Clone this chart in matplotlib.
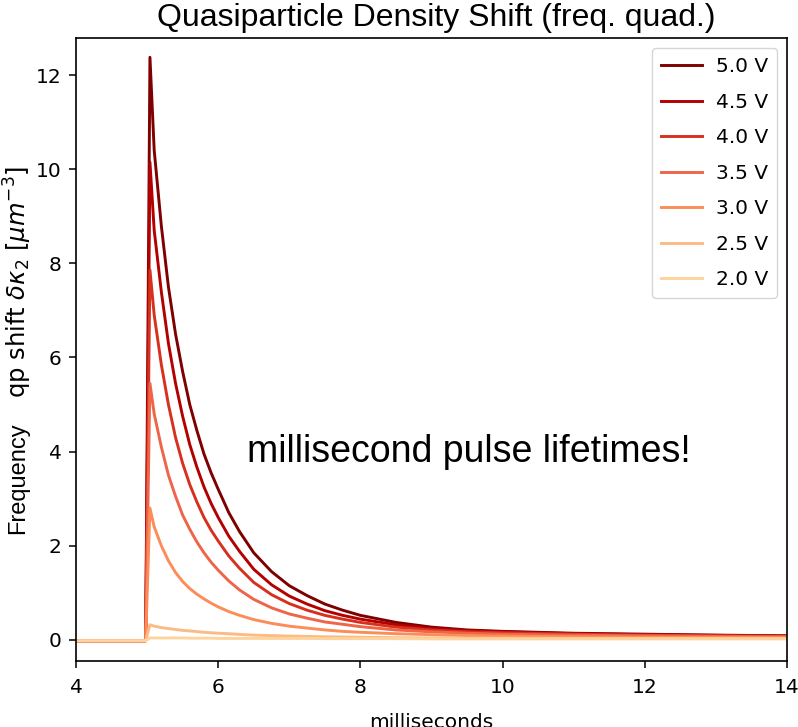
import matplotlib
matplotlib.use("Agg")
import matplotlib.pyplot as plt

# ---- data ----
t_ms = [3.9, 4.98, 5.04, 5.1, 5.2, 5.3, 5.4, 5.5, 5.6, 5.7, 5.8, 5.9, 6.0, 6.15, 6.3,
        6.5, 6.75, 7.0, 7.25, 7.5, 7.75, 8.0, 8.5, 9.0, 9.5, 10.0, 11.0, 12.0, 13.0, 14.0]

v_50 = [-0.02, -0.02, 12.38, 10.4, 8.8, 7.5, 6.5, 5.7, 5.0, 4.45, 3.95, 3.55, 3.2, 2.7, 2.3,
        1.85, 1.45, 1.15, 0.94, 0.76, 0.63, 0.52, 0.37, 0.27, 0.21, 0.18, 0.14, 0.12, 0.10, 0.085]
v_45 = [-0.02, -0.02, 10.15, 8.7, 7.4, 6.3, 5.45, 4.75, 4.15, 3.67, 3.25, 2.9, 2.6, 2.2, 1.88,
        1.5, 1.17, 0.93, 0.76, 0.62, 0.52, 0.44, 0.32, 0.24, 0.195, 0.17, 0.13, 0.11, 0.095, 0.08]
v_40 = [-0.02, -0.02, 7.86, 6.9, 5.85, 5.0, 4.3, 3.75, 3.3, 2.93, 2.6, 2.33, 2.1, 1.78, 1.52,
        1.22, 0.96, 0.77, 0.63, 0.52, 0.44, 0.37, 0.27, 0.21, 0.17, 0.15, 0.12, 0.10, 0.085, 0.075]
v_35 = [-0.02, -0.02, 5.45, 4.8, 4.1, 3.5, 3.05, 2.65, 2.35, 2.08, 1.85, 1.65, 1.48, 1.25, 1.06,
        0.86, 0.68, 0.55, 0.46, 0.38, 0.33, 0.28, 0.21, 0.17, 0.14, 0.12, 0.10, 0.085, 0.075, 0.065]
v_30 = [-0.02, -0.02, 2.80, 2.40, 2.0, 1.68, 1.43, 1.24, 1.09, 0.97, 0.87, 0.78, 0.70, 0.60, 0.52,
        0.43, 0.35, 0.29, 0.25, 0.21, 0.18, 0.16, 0.13, 0.11, 0.09, 0.08, 0.065, 0.055, 0.05, 0.045]
v_25 = [-0.02, -0.02, 0.32, 0.29, 0.26, 0.24, 0.22, 0.20, 0.19, 0.175, 0.16, 0.15, 0.14, 0.13, 0.115,
        0.10, 0.09, 0.08, 0.072, 0.065, 0.06, 0.055, 0.045, 0.04, 0.037, 0.035, 0.03, 0.03, 0.03, 0.03]
v_20 = [-0.02, -0.02, 0.04, 0.04, 0.04, 0.04, 0.04, 0.04, 0.035, 0.035, 0.035, 0.035, 0.03, 0.03, 0.03,
        0.03, 0.03, 0.03, 0.03, 0.025, 0.025, 0.025, 0.025, 0.02, 0.02, 0.02, 0.02, 0.02, 0.02, 0.02]

labels = ["5.0 V", "4.5 V", "4.0 V", "3.5 V", "3.0 V", "2.5 V", "2.0 V"]
series = [v_50, v_45, v_40, v_35, v_30, v_25, v_20]
colors = ["#7f0000", "#b30000", "#d7301f", "#ef6548", "#fc8d59", "#fdbb84", "#fdd49e"]

x_ticks = [4, 6, 8, 10, 12, 14]
y_ticks = [0, 2, 4, 6, 8, 10, 12]

# ---- figure ----
fig = plt.figure(figsize=(7.98, 7.27), dpi=100)
ax = fig.add_axes([76 / 798, 1 - 661 / 727, (787 - 76) / 798, (661 - 38) / 727])

for vals, lab, col in zip(series, labels, colors):
    ax.plot(t_ms, vals, color=col, lw=2.1, label=lab, solid_joinstyle="round")

ax.set_xlim(4, 14)
ax.set_ylim(-0.45, 12.79)
ax.set_xticks(x_ticks)
ax.set_yticks(y_ticks)
ax.tick_params(labelsize=14.5, length=5, width=1.1)
ax.tick_params(axis="x", pad=7.5)
ax.tick_params(axis="y", pad=5.5)
for s in ax.spines.values():
    s.set_linewidth(1.2)

leg = ax.legend(loc="upper right", fontsize=14.5, handlelength=2.0,
                borderpad=0.45, labelspacing=0.82, framealpha=0.8,
                borderaxespad=0.5, handletextpad=0.7)

ax.set_xlabel("milliseconds", fontsize=14.5, labelpad=11)

fig.text(469 / 798, 1 - 452 / 727, "millisecond pulse lifetimes!",
         family="Liberation Sans", fontsize=27, ha="center", va="center")
fig.text(0.5 * (155 + 718) / 798, 1 - 18 / 727, "Quasiparticle Density Shift (freq. quad.)",
         family="Liberation Sans", fontsize=23, ha="center", va="center")
fig.text(18 / 798, 1 - 478 / 727, "Frequency", family="Liberation Sans",
         fontsize=17, rotation=90, ha="center", va="center")
fig.text(18 / 798, 1 - 282 / 727, r"qp shift $\delta\kappa_2$ [$\mu m^{-3}$]",
         fontsize=17.5, rotation=90, ha="center", va="center")

fig.savefig("out.png", dpi=100)
